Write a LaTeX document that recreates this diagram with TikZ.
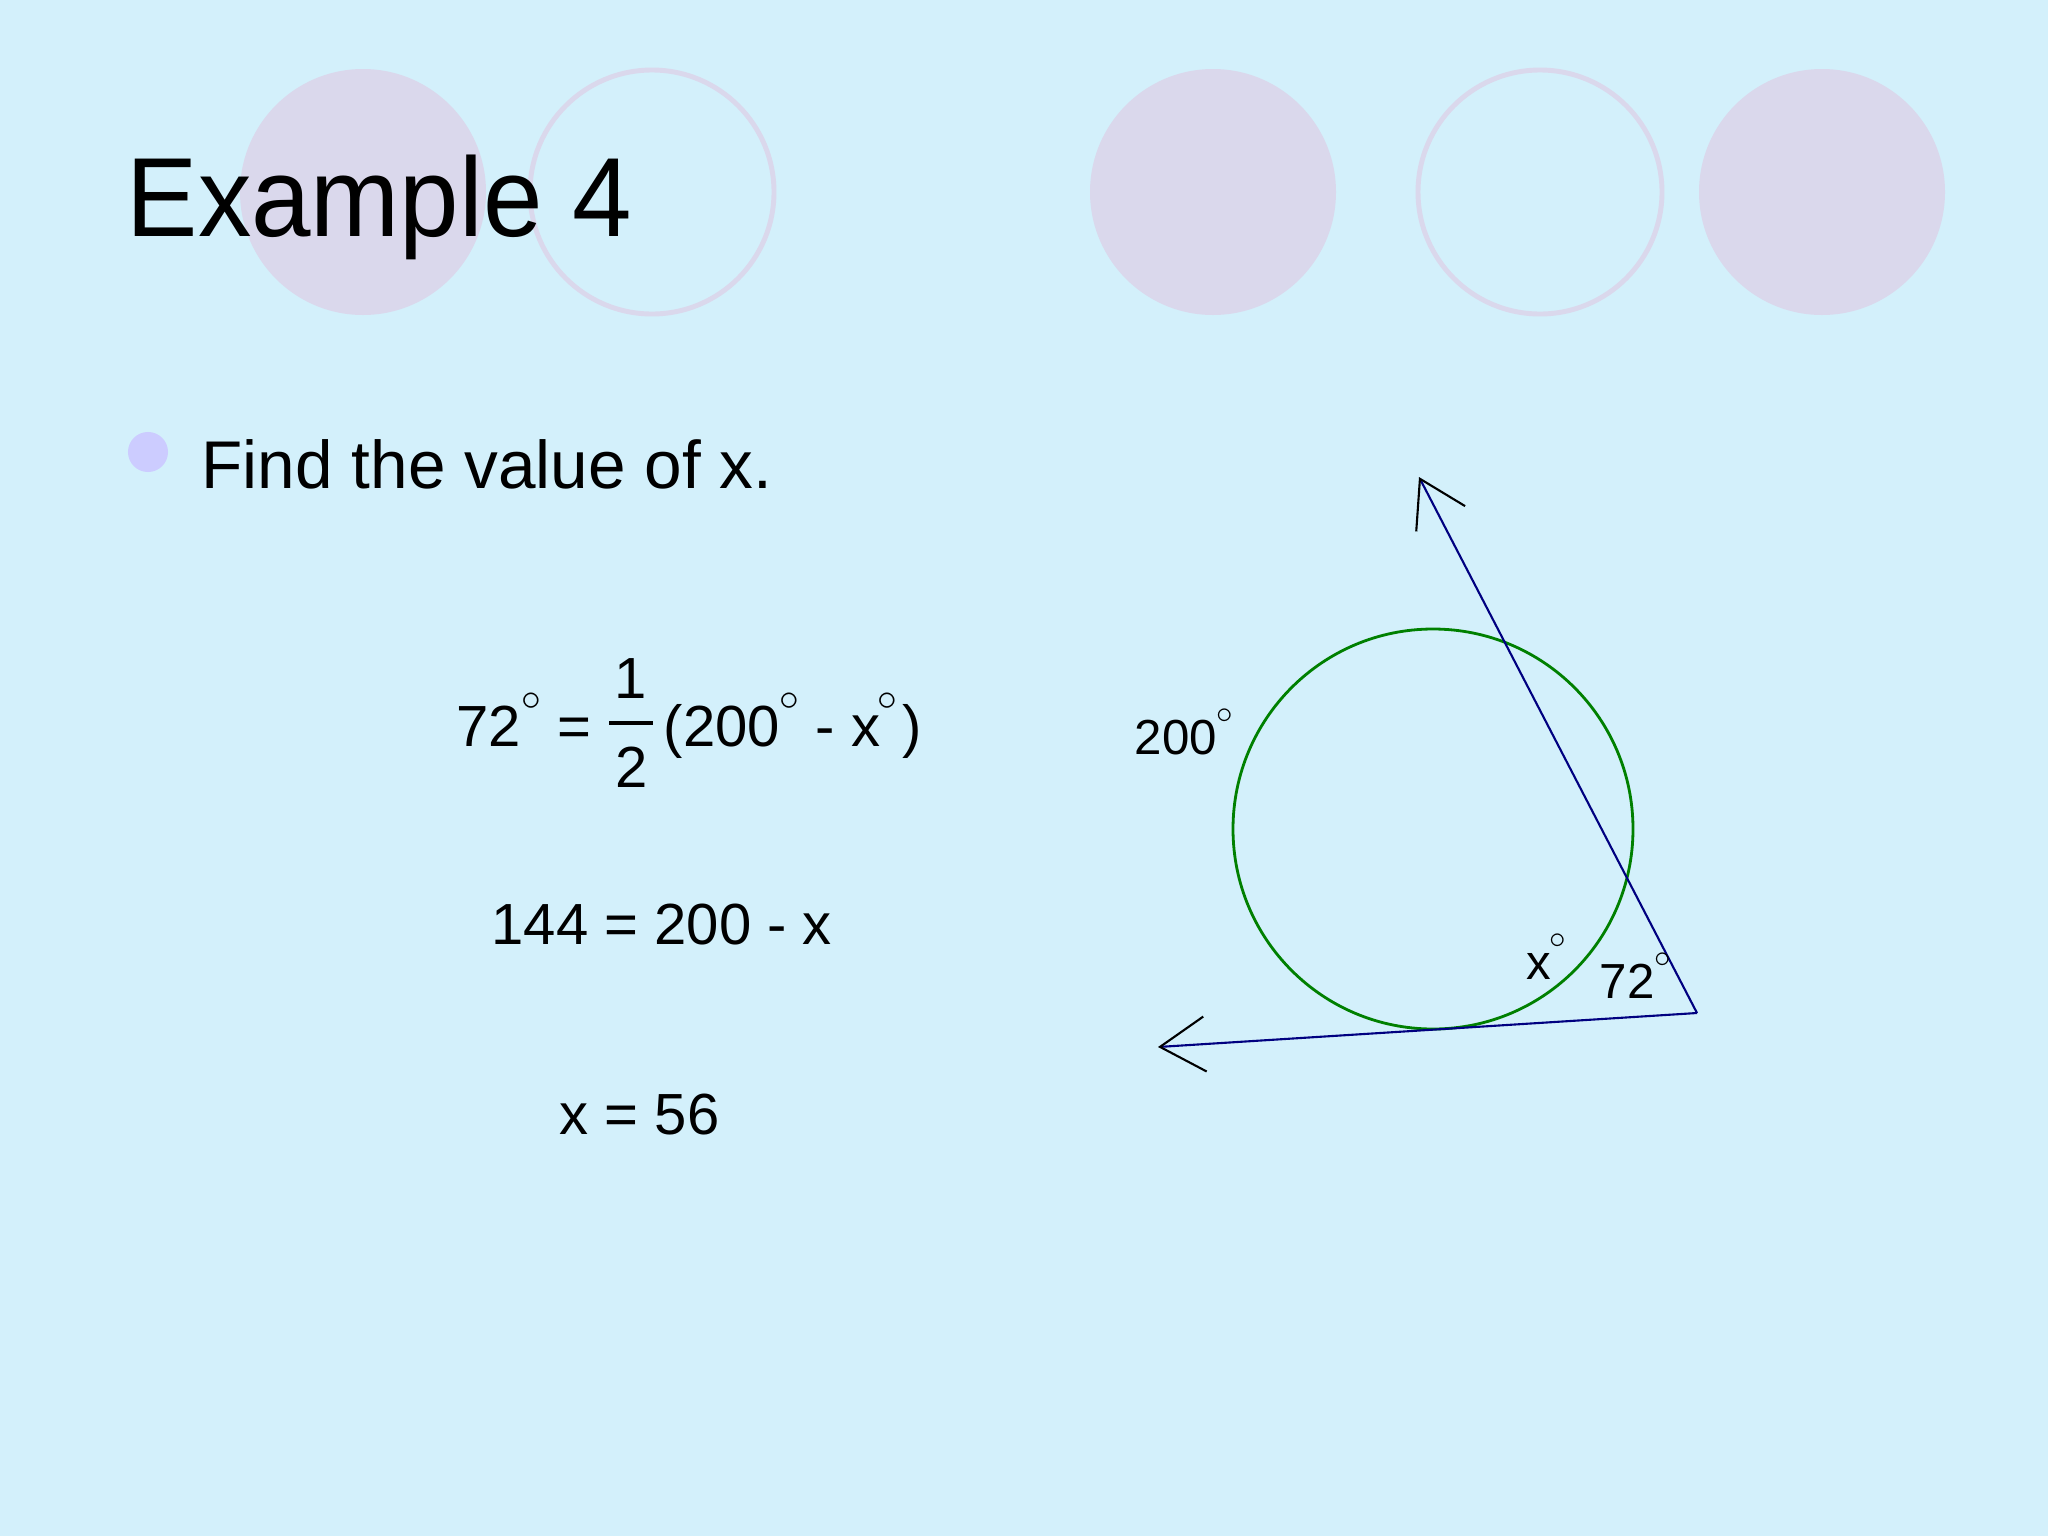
\documentclass[tikz,border=0pt]{standalone}
\usepackage{fontspec}
\setmainfont{Liberation Sans}
\newfontfamily\headfont[FakeStretch=0.95]{Liberation Sans}
\usepackage{tikz}
\usetikzlibrary{arrows.meta}
\usetikzlibrary{positioning}

\definecolor{slidebg}{RGB}{211,240,251}
\definecolor{lilac}{RGB}{218,216,236}
\definecolor{dotblue}{RGB}{204,204,255}
\definecolor{navy}{RGB}{0,0,128}
\definecolor{arcgreen}{RGB}{0,128,0}

\newcommand{\degsign}{\raisebox{0.62em}{\scalebox{0.65}{$\circ$}}}

\tikzset{
	disc/.style={fill=lilac},
	ring/.style={draw=lilac, line width=1.4pt},
	txt/.style={inner sep=0pt, anchor=base west},
	ray/.style={draw=navy, line width=0.6pt, -{Straight Barb[length=4.5mm, width=5.5mm, black]}},
}

\begin{document}
\begin{tikzpicture}[x=0.01cm, y=-0.01cm]
	\useasboundingbox (0,0) rectangle (2048,1536);
	\fill[slidebg] (0,0) rectangle (2048,1536);

	% circles along the top
	\fill[disc] (363,192) circle (123);
	\draw[ring] (652,192) circle (122);
	\fill[disc] (1213,192) circle (123);
	\draw[ring] (1540,192) circle (122);
	\fill[disc] (1822,192) circle (123);

	\node[txt, font=\headfont\fontsize{32}{38}\selectfont] (title) at (126,236) {Example 4};

	\node[circle, fill=dotblue, minimum size=0.4cm, inner sep=0pt] (dot) at (148,452) {};
	\node[txt, font=\fontsize{19.2}{23}\selectfont] (task) at (201,488) {Find the value of x.};

	% working
	\node[txt, font=\fontsize{16.5}{20}\selectfont] (lhs) at (456,746) {72\degsign\ =};
	\node[inner sep=0pt, anchor=base, font=\fontsize{16.5}{20}\selectfont] (num) at (631,698) {1};
	\node[inner sep=0pt, anchor=base, font=\fontsize{16.5}{20}\selectfont] (den) at (632,787) {2};
	\draw[line width=1.1pt] (609,723) -- (653,723);
	\node[txt, font=\fontsize{16.5}{20}\selectfont] (rhs) at (663,746) {(200\degsign\ - x\kern-0.04em\degsign\kern0.08em)};
	\node[txt, font=\fontsize{16.5}{20}\selectfont] (step) at (491,944) {144 = 200 - x};
	\node[txt, font=\fontsize{16.5}{20}\selectfont] (res) at (559,1134) {x = 56};

	% figure
	\draw[arcgreen, line width=0.8pt] (1433,829) circle (200);
	\coordinate (vtx) at (1697,1013);
	\coordinate (tipA) at (1419,477);
	\coordinate (tipB) at (1158,1047);
	\draw[ray] (vtx) -- (tipA);
	\draw[ray] (vtx) -- (tipB);

	\node[txt, font=\fontsize{14}{17}\selectfont] (arcbig) at (1134,754) {200\degsign};
	\node[txt, font=\fontsize{14}{17}\selectfont] (angx) at (1526,979) {x\kern-0.04em\degsign};
	\node[txt, font=\fontsize{14}{17}\selectfont] (angout) at (1599,998) {72\degsign};
\end{tikzpicture}
\end{document}
